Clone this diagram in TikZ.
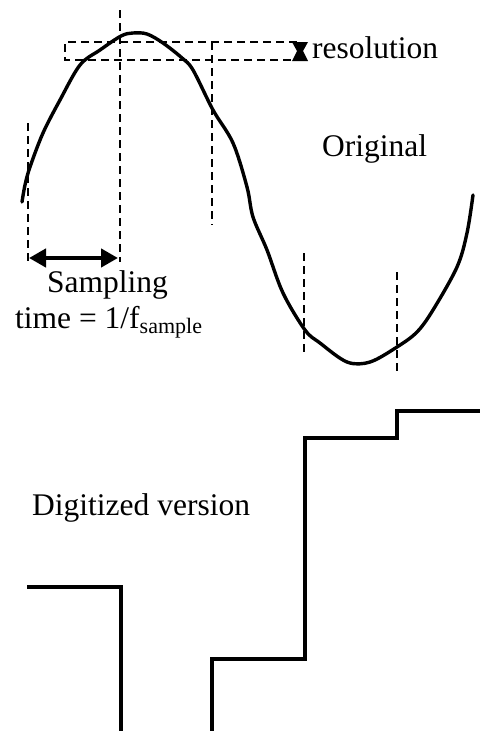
\documentclass[tikz,border=0pt]{standalone}
\usepackage{fontspec}
\setmainfont{Liberation Serif}
\usetikzlibrary{arrows.meta}
\begin{document}
\begin{tikzpicture}[x=1pt,y=-1pt,
  guide/.style={line width=2.4pt,dash pattern=on 8pt off 5pt},
  signal/.style={line width=3.4pt,line join=round,line cap=round},
  stair/.style={line width=3.4pt,line join=miter},
  lbl/.style={inner sep=0pt,anchor=base west,font=\fontsize{31.5}{36}\selectfont}]
\path[use as bounding box] (0,0) rectangle (480,731);

% sampling instants (dashed verticals)
\coordinate (s1t) at (28,123);  \coordinate (s1b) at (28,262);
\coordinate (s2t) at (120,10);  \coordinate (s2b) at (120,262);
\coordinate (s3t) at (212,42);  \coordinate (s3b) at (212,225);
\coordinate (s4t) at (304,253); \coordinate (s4b) at (304,354);
\coordinate (s5t) at (397,272); \coordinate (s5b) at (397,373);
\draw[guide] (s1t) -- (s1b);
\draw[guide] (s2t) -- (s2b);
\draw[guide] (s3t) -- (s3b);
\draw[guide] (s4t) -- (s4b);
\draw[guide] (s5t) -- (s5b);

% quantisation levels (dashed horizontals)
\coordinate (q1l) at (65,42); \coordinate (q1r) at (297,42);
\coordinate (q2l) at (65,60); \coordinate (q2r) at (297,60);
\draw[guide] (q1r) -- (q1l) -- (q2l) -- (q2r);

% resolution marker
\fill (292,42) -- (308,42) -- (303,51) -- (308,61) -- (292,61) -- (297,51) -- cycle;
\node[lbl] (res) at (312,58) {resolution};

% original analogue signal
\draw[signal] plot[smooth,tension=0.55] coordinates {
  (22,202) (25,185) (30,167) (43,133) (60,100) (80,65) (100,50) (121,36)
  (133,33) (147,34) (163,43) (182,58) (193,70) (213,110) (233,143)
  (247,187) (253,217) (267,250) (283,293) (305,330) (320,343) (347,362)
  (370,362) (397,347) (417,332) (433,310) (457,267) (467,233) (473,195)};
\node[lbl] (orig) at (322,156) {Original};

% sampling interval
\coordinate (a1) at (29,258); \coordinate (a2) at (118,258);
\draw[line width=4.5pt,{Triangle[length=17pt,width=18pt]}-{Triangle[length=17pt,width=18pt]}] (a1) -- (a2);
\node[lbl] (samp) at (47,292) {Sampling};
\node[lbl] (time) at (15,328) {time = 1/f\raisebox{-5pt}{\fontsize{22}{24}\selectfont sample}};

% digitized staircase
\coordinate (d1) at (27,587); \coordinate (d2) at (121,587); \coordinate (d3) at (121,731);
\draw[stair] (d1) -- (d2) -- (d3);
\coordinate (e1) at (212,731); \coordinate (e2) at (212,659); \coordinate (e3) at (305,659);
\coordinate (e4) at (305,438); \coordinate (e5) at (397,438); \coordinate (e6) at (397,411);
\coordinate (e7) at (480,411);
\draw[stair] (e1) -- (e2) -- (e3) -- (e4) -- (e5) -- (e6) -- (e7);
\node[lbl] (dig) at (32,515) {Digitized version};
\end{tikzpicture}
\end{document}
